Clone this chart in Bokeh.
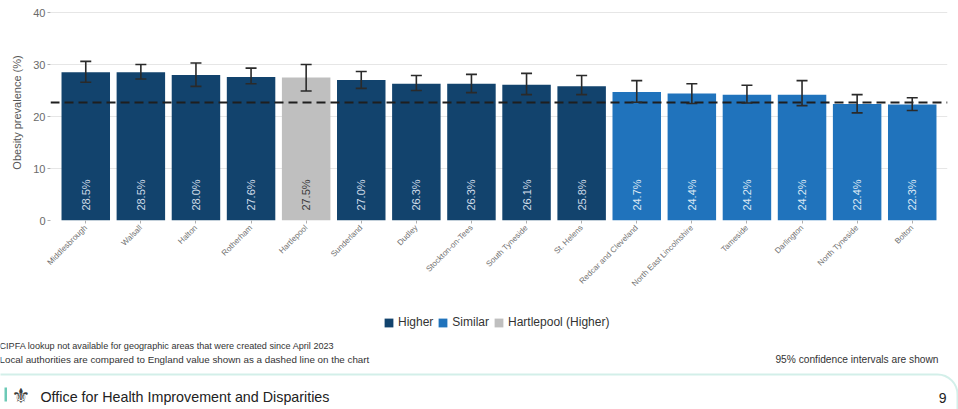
from math import pi

from bokeh.core.properties import value
from bokeh.embed import file_html
from bokeh.layouts import column
from bokeh.models import (BoxAnnotation, CDSView, ColumnDataSource, FactorRange,
                          FixedTicker, GroupFilter, Legend, LegendItem,
                          Range1d, Span, TeeHead, Whisker)
from bokeh.plotting import figure
from bokeh.resources import INLINE

# Year 6 obesity prevalence, CIPFA nearest neighbours
areas = ["Middlesbrough", "Walsall", "Halton", "Rotherham", "Hartlepool",
         "Sunderland", "Dudley", "Stockton-on-Tees", "South Tyneside",
         "St. Helens", "Redcar and Cleveland", "North East Lincolnshire",
         "Tameside", "Darlington", "North Tyneside", "Bolton"]
prevalence = [28.5, 28.5, 28.0, 27.6, 27.5, 27.0, 26.3, 26.3, 26.1, 25.8,
              24.7, 24.4, 24.2, 24.2, 22.4, 22.3]
ci_lower = [26.6, 27.2, 25.8, 26.3, 24.9, 25.4, 25.0, 24.6, 24.2, 24.2,
            22.75, 22.5, 22.6, 22.1, 20.7, 21.15]
ci_upper = [30.6, 30.0, 30.3, 29.3, 30.0, 28.65, 27.9, 28.1, 28.3, 27.9,
            26.9, 26.3, 26.0, 26.9, 24.2, 23.6]
comparison = ["Higher", "Higher", "Higher", "Higher", "Hartlepool (Higher)",
              "Higher", "Higher", "Higher", "Higher", "Higher",
              "Similar", "Similar", "Similar", "Similar", "Similar", "Similar"]
england_value = 22.7
y_ticks = [0, 10, 20, 30, 40]

groups = ["Higher", "Similar", "Hartlepool (Higher)"]
group_colors = {"Higher": "#12436d", "Similar": "#2073bc",
                "Hartlepool (Higher)": "#bfbfbf"}
label_colors = {"Higher": "#cfdbe8", "Similar": "#dce8f4",
                "Hartlepool (Higher)": "#3a3a3a"}

note_cipfa = "CIPFA lookup not available for geographic areas that were created since April 2023"
note_england = "Local authorities are compared to England value shown as a dashed line on the chart"
note_ci = "95% confidence intervals are shown"
org_name = "Office for Health Improvement and Disparities"
page_number = "9"

FONT = "Liberation Sans"
TEAL = "#6cc9b6"

source = ColumnDataSource(dict(
    area=areas,
    value=prevalence,
    lower=ci_lower,
    upper=ci_upper,
    group=comparison,
    label=[f"{v:.1f}%" for v in prevalence],
    label_y=[1.9] * len(areas),
    label_color=[label_colors[g] for g in comparison],
))

# ---------------------------------------------------------------- chart
p = figure(
    width=958, height=305,
    x_range=FactorRange(*areas, range_padding=0.14, range_padding_units="absolute"),
    y_range=Range1d(0, 41.54),
    output_backend="svg", toolbar_location=None,
    min_border_left=50, min_border_right=11, min_border_top=4, min_border_bottom=85,
    background_fill_color="white", border_fill_color="white",
)
p.outline_line_color = None
p.frame_align = False

for g in groups:
    view = CDSView(filter=GroupFilter(column_name="group", group=g))
    p.vbar(x="area", top="value", bottom=0, width=0.88, source=source,
           view=view, fill_color=group_colors[g], line_color=None)

# value labels inside the bars
p.text(x="area", y="label_y", text="label", source=source, angle=pi / 2,
       text_align="left", text_baseline="middle", text_color="label_color",
       text_font=value(FONT), text_font_size="11px")

# England comparator
p.add_layout(Span(location=england_value, dimension="width", line_color="#1e1e1e",
                  line_width=2, line_dash="9 5", level="overlay"))

# 95% confidence intervals
whisk = Whisker(base="area", lower="lower", upper="upper", source=source,
                line_color="#2a2a2a", line_width=1.6, level="overlay",
                lower_head=TeeHead(size=11, line_color="#2a2a2a", line_width=1.6),
                upper_head=TeeHead(size=11, line_color="#2a2a2a", line_width=1.6))
p.add_layout(whisk)

p.xgrid.grid_line_color = None
p.ygrid.grid_line_color = "#e6e6e6"
p.yaxis.ticker = FixedTicker(ticks=y_ticks)
p.yaxis.axis_line_color = None
p.yaxis.major_tick_line_color = "#b0b0b0"
p.yaxis.major_tick_out = 3
p.yaxis.major_tick_in = 0
p.yaxis.minor_tick_line_color = None
p.yaxis.major_label_standoff = 2
p.yaxis.major_label_text_font = FONT
p.yaxis.major_label_text_font_size = "11px"
p.yaxis.major_label_text_color = "#6a6a6a"
p.yaxis.axis_label = "Obesity prevalence (%)"
p.yaxis.axis_label_text_font = FONT
p.yaxis.axis_label_text_font_style = "normal"
p.yaxis.axis_label_text_font_size = "11px"
p.yaxis.axis_label_text_color = "#555555"
p.yaxis.axis_label_standoff = 7

p.xaxis.axis_line_color = None
p.xaxis.major_tick_line_color = "#b0b0b0"
p.xaxis.major_tick_out = 3
p.xaxis.major_tick_in = 0
p.xaxis.major_label_orientation = pi / 4
p.xaxis.major_label_standoff = 3
p.xaxis.major_label_text_font = FONT
p.xaxis.major_label_text_font_size = "8px"
p.xaxis.major_label_text_color = "#707070"

# ---------------------------------------------------------------- legend, notes, footer
f = figure(
    width=958, height=104, x_range=Range1d(0, 958), y_range=Range1d(0, 104),
    output_backend="svg", toolbar_location=None, min_border=0,
    background_fill_color="white", border_fill_color="white",
)
f.axis.visible = False
f.grid.visible = False
f.outline_line_color = None
f.frame_align = False

# legend keys: off-canvas proxies in the chart's group colours
keys = {g: f.vbar(x=[-500], top=[-500], bottom=[-501], width=1,
                  fill_color=group_colors[g], line_color=None) for g in groups}
legend = Legend(
    items=[LegendItem(label=g, renderers=[keys[g]]) for g in groups],
    orientation="horizontal", location=(383, 80),
    glyph_width=11, glyph_height=11, label_standoff=4, spacing=4,
    label_text_font=FONT, label_text_font_size="12px", label_text_color="#333333",
    label_height=11, label_width=10, border_line_color=None, background_fill_alpha=0,
    padding=0, margin=0,
)
f.add_layout(legend, "center")

f.text(x=[-1], y=[64], text=[note_cipfa], text_font=value(FONT),
       text_font_size="9.1px", text_color="#333333", text_baseline="middle")
f.text(x=[-1], y=[50], text=[note_england], text_font=value(FONT),
       text_font_size="9.8px", text_color="#333333", text_baseline="middle")
f.text(x=[938], y=[50], text=[note_ci], text_font=value(FONT),
       text_font_size="10.2px", text_color="#333333", text_baseline="middle",
       text_align="right")

f.add_layout(BoxAnnotation(left=-60, right=957, top=35, bottom=-60,
                           fill_alpha=0, line_color=TEAL, line_width=2,
                           border_radius=20))
f.add_layout(BoxAnnotation(left=4, right=6.5, top=22, bottom=8,
                           fill_color=TEAL, fill_alpha=1, line_color=None))
f.text(x=[11], y=[14], text=["⚜"], text_font=value("DejaVu Sans"),
       text_font_size="21px", text_color="#3a3a3a", text_baseline="middle")
f.text(x=[40], y=[13], text=[org_name], text_font=value(FONT),
       text_font_size="14.3px", text_color="#222222", text_baseline="middle")
f.text(x=[946], y=[12], text=[page_number], text_font=value(FONT),
       text_font_size="14px", text_color="#222222", text_baseline="middle",
       text_align="right")

layout = column(p, f, spacing=0)
open("out.html", "w").write(file_html(layout, INLINE))
